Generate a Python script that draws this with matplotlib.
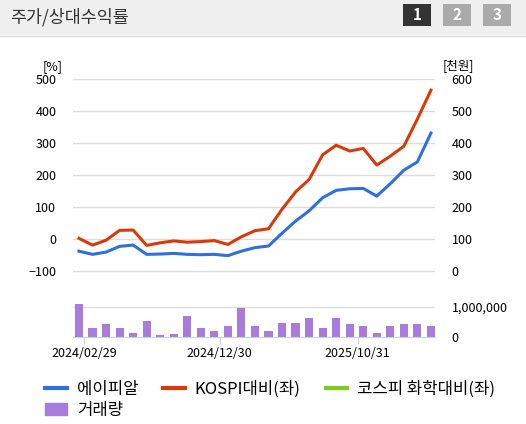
import numpy as np
import matplotlib.pyplot as plt
from matplotlib.lines import Line2D
from matplotlib.patches import Patch, Rectangle

plt.rcParams['font.family'] = ['Noto Sans CJK KR', 'DejaVu Sans']

stock = [-38, -48, -41, -23, -19, -48, -47, -45, -48, -49, -48, -52, -38, -27, -22,
         18, 56, 88, 129, 152, 157, 158, 134, 173, 215, 241, 331]
kospi = [2, -19, -4, 27, 28, -20, -12, -6, -10, -8, -5, -17, 7, 26, 32,
         93, 147, 186, 263, 293, 275, 283, 231, 259, 290, 375, 465]
volume = [1110000, 300000, 420000, 310000, 140000, 520000, 60000, 90000, 690000,
          310000, 200000, 370000, 960000, 370000, 200000, 470000, 470000, 620000,
          310000, 620000, 420000, 370000, 140000, 370000, 420000, 420000, 370000]
tick_pos = [0.4, 10.4, 20.6]
tick_labels = ['2024/02/29', '2024/12/30', '2025/10/31']

x = np.arange(len(stock))
fig = plt.figure(figsize=(5.26, 4.24), dpi=100)

# header band
fig.patches.append(Rectangle((0, 1 - 35 / 424), 1, 35 / 424, transform=fig.transFigure,
                             facecolor='#efefef', edgecolor='none'))
fig.add_artist(Line2D([0, 1], [1 - 36 / 424] * 2, color='#d8d8d8', lw=1))
fig.text(10 / 526, 1 - 17 / 424, '주가/상대수익률', fontsize=12.5, color='#333333', va='center')
for i, (lab, col) in enumerate(zip(['1', '2', '3'], ['#333333', '#aaaaaa', '#aaaaaa'])):
    x0 = (403 + i * 40) / 526
    fig.patches.append(Rectangle((x0, 1 - 26 / 424), 28 / 526, 22 / 424,
                                 transform=fig.transFigure, facecolor=col, edgecolor='none'))
    fig.text(x0 + 14 / 526, 1 - 15 / 424, lab, color='white', fontsize=11,
             fontweight='bold', ha='center', va='center')

ax = fig.add_axes([73 / 526, 1 - 275 / 424, 362 / 526, 196 / 424])
ax.plot(x, stock, color='#2f6fde', lw=2.2)
ax.plot(x, kospi, color='#d83a0a', lw=2.2)
ax.set_xlim(-0.44, 26.3)
ax.set_ylim(-112.5, 500)
ax.set_yticks([-100, 0, 100, 200, 300, 400, 500])
ax.grid(axis='y', color='#dddddd', lw=1)
ax.set_axisbelow(True)
for s in ax.spines.values():
    s.set_visible(False)
ax.set_xticks([])
ax.tick_params(axis='y', length=0, labelsize=9, pad=12)
ax2 = ax.twinx()
ax2.set_ylim(-12.5, 600)
ax2.set_yticks([0, 100, 200, 300, 400, 500, 600])
for s in ax2.spines.values():
    s.set_visible(False)
ax2.tick_params(axis='y', length=0, labelsize=9, pad=12)
ax.text(-0.03, 1.045, '[%]', transform=ax.transAxes, fontsize=9, ha='right')
ax2.text(1.02, 1.045, '[천원]', transform=ax.transAxes, fontsize=9, ha='left')

axb = fig.add_axes([73 / 526, 1 - 337 / 424, 362 / 526, 37 / 424])
axb.bar(x, volume, width=0.6, color='#a97bdc')
axb.set_xlim(-0.44, 26.3)
axb.set_ylim(0, 1230000)
axb.set_yticks([0, 1000000])
axb.yaxis.tick_right()
axb.yaxis.set_major_formatter(lambda v, p: f'{int(v):,}')
axb.tick_params(axis='y', length=0, labelsize=9, pad=12)
axb.grid(axis='y', color='#dddddd', lw=1)
axb.set_axisbelow(True)
for s in ['top', 'left', 'right']:
    axb.spines[s].set_visible(False)
axb.spines['bottom'].set_color('#c8d4e0')
axb.set_xticks(tick_pos)
axb.set_xticklabels(tick_labels)
axb.tick_params(axis='x', length=5, color='#c8d4e0', labelsize=9, pad=2)

# order so that row 1 = three lines, row 2 = volume (legend fills column-wise)
handles = [Line2D([], [], color='#2f6fde', lw=3), Patch(color='#a97bdc'),
           Line2D([], [], color='#d83a0a', lw=3), Line2D([], [], color='#7ccc1a', lw=3)]
fig.legend(handles, ['에이피알', '거래량', 'KOSPI대비(좌)', '코스피 화학대비(좌)'],
           ncol=3, loc='upper left', bbox_to_anchor=(30 / 526, 1 - 366 / 424),
           frameon=False, fontsize=12, handlelength=1.3, columnspacing=1.5,
           handletextpad=0.6, labelspacing=0.2)

fig.savefig('out.png', dpi=100)
